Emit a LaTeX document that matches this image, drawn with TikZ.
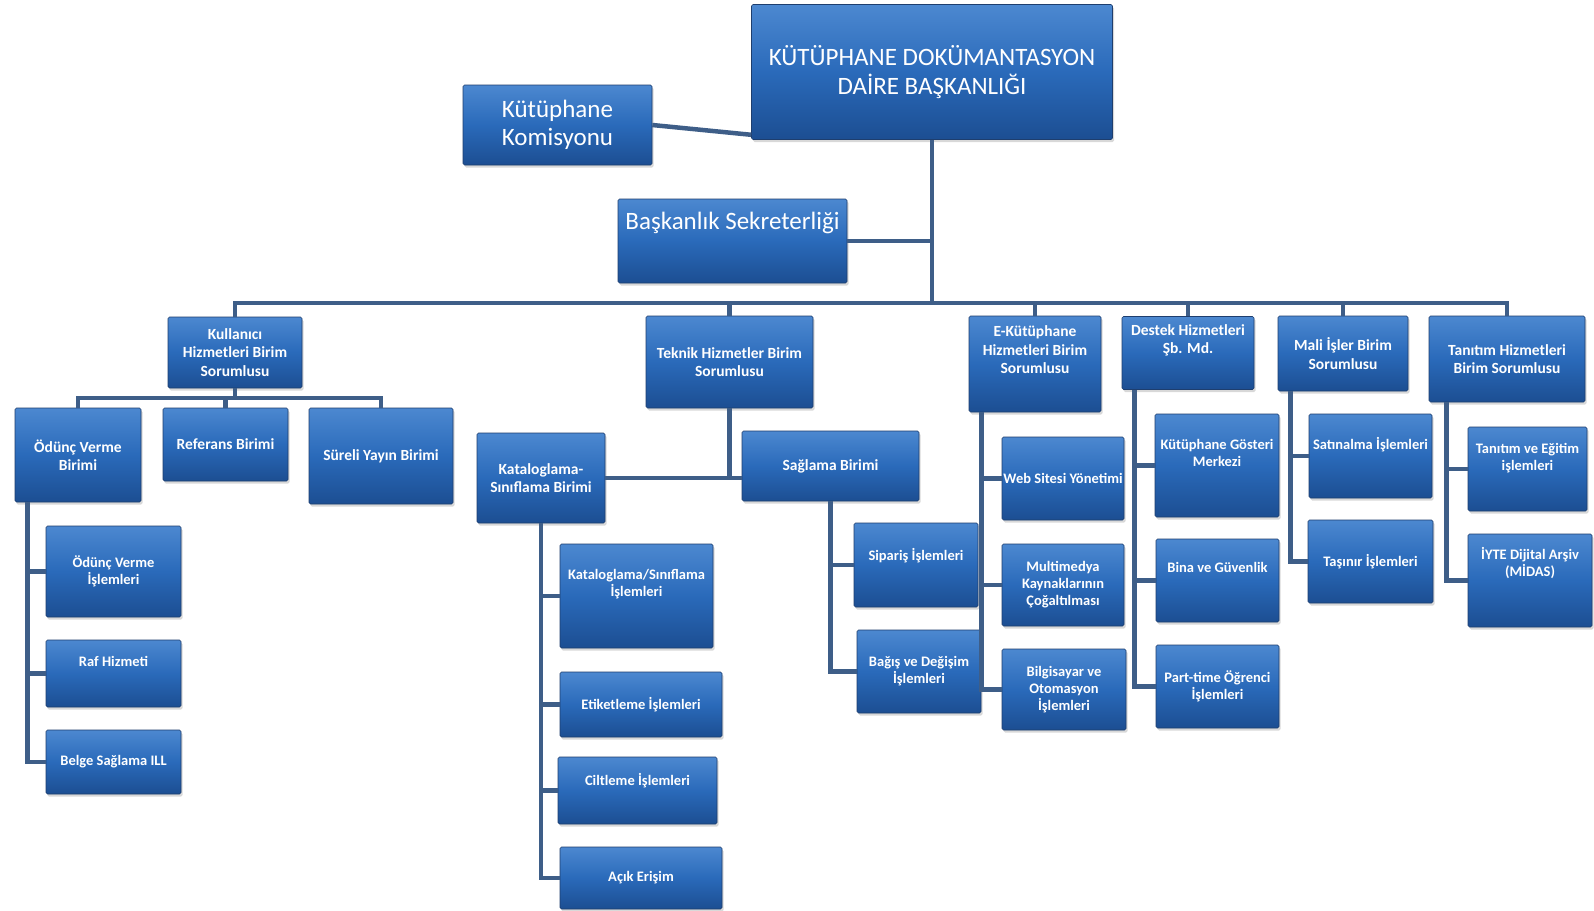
\documentclass[tikz,border=0pt]{standalone}
\usepackage{fontspec}
\setmainfont{Carlito}
\usepackage{tikz}
\usetikzlibrary{shadows}

\definecolor{boxtop}{RGB}{76,136,208}
\definecolor{boxmid}{RGB}{42,106,186}
\definecolor{boxbot}{RGB}{28,78,146}
\definecolor{boxedge}{RGB}{30,62,110}
\definecolor{linkcol}{RGB}{62,94,136}

\begin{document}
\begin{tikzpicture}[x=1pt,y=-1pt,
    orgbox/.style={draw=boxedge,line width=0.6pt,rounded corners=1.5pt,
      top color=boxtop,bottom color=boxbot,middle color=boxmid,
      text=white,align=center,inner sep=0.5pt,
      drop shadow={shadow xshift=1.5pt,shadow yshift=-2.5pt,opacity=0.3}},
    topbox/.style={orgbox,font=\fontsize{25}{28.5}\selectfont},
    headbox/.style={orgbox,font=\fontsize{15.5}{18.5}\selectfont\bfseries},
    leafbox/.style={orgbox,font=\fontsize{14.5}{17}\selectfont\bfseries},
    sz/.style 2 args={minimum width=#1pt,minimum height=#2pt},
    txtup/.style={text depth=#1pt},
    link/.style={draw=linkcol,line width=4.5pt}]
\useasboundingbox[fill=white] (0,0) rectangle (1594,910);

% top
\node[topbox,sz={361}{135}] (dbas) at (932,72) {KÜTÜPHANE DOKÜMANTASYON\\DAİRE BAŞKANLIĞI};
\node[topbox,sz={189}{80}] (komis) at (557.5,125) {Kütüphane\\Komisyonu};
\node[topbox,sz={229}{84},txtup=41] (sekr) at (732.5,241) {Başkanlık Sekreterliği};

% units
\node[headbox,sz={134}{71}] (kul) at (235,352.5) {Kullanıcı\\Hizmetleri Birim\\Sorumlusu};
\node[headbox,sz={167}{92}] (tekn) at (729.5,362) {Teknik Hizmetler Birim\\Sorumlusu};
\node[headbox,sz={132}{96},txtup=28] (ekut) at (1035,364) {E-Kütüphane\\Hizmetleri Birim\\Sorumlusu};
\node[headbox,sz={132}{73},txtup=28] (destek) at (1188,353) {Destek Hizmetleri\\Şb. Md.};
\node[headbox,sz={130}{75}] (mali) at (1343,353.5) {Mali İşler Birim\\Sorumlusu};
\node[headbox,sz={156}{86}] (tanit) at (1507,359) {Tanıtım Hizmetleri\\Birim Sorumlusu};

\node[headbox,sz={126}{94}] (odunc) at (78,455) {Ödünç Verme\\Birimi};
\node[headbox,sz={125}{73}] (refer) at (225.5,444.5) {Referans Birimi};
\node[headbox,sz={144}{96}] (sureli) at (381,456) {Süreli Yayın Birimi};
\node[headbox,sz={128}{90}] (katbir) at (541,478) {Kataloglama-\\Sınıflama Birimi};
\node[headbox,sz={177}{70}] (sagbir) at (830.5,466) {Sağlama Birimi};

% leaves
\node[leafbox,sz={135}{91}] (odisl) at (113.5,571.5) {Ödünç Verme\\İşlemleri};
\node[leafbox,sz={135}{67},txtup=23.5] (raf) at (113.5,673.5) {Raf Hizmeti};
\node[leafbox,sz={135}{64}] (belge) at (113.5,762) {Belge Sağlama ILL};

\node[leafbox,sz={153}{104},txtup=25.5] (katisl) at (636.5,596) {Kataloglama/Sınıflama\\İşlemleri};
\node[leafbox,sz={162}{65}] (etiket) at (641,704.5) {Etiketleme İşlemleri};
\node[leafbox,sz={159}{67},txtup=21.5] (cilt) at (637.5,790.5) {Ciltleme İşlemleri};
\node[leafbox,sz={162}{62}] (acik) at (641,878) {Açık Erişim};

\node[leafbox,sz={124}{84},txtup=21.5] (sipar) at (916,565) {Sipariş İşlemleri};
\node[leafbox,sz={124}{83}] (bagis) at (919,671.5) {Bağış ve Değişim\\İşlemleri};

\node[leafbox,sz={122}{83}] (web) at (1063,478.5) {Web Sitesi Yönetimi};
\node[leafbox,sz={122}{82}] (multi) at (1063,585) {Multimedya\\Kaynaklarının\\Çoğaltılması};
\node[leafbox,sz={124}{81}] (bilgi) at (1064,689.5) {Bilgisayar ve\\Otomasyon\\İşlemleri};

\node[leafbox,sz={124}{103},txtup=25.5] (goster) at (1217,465.5) {Kütüphane Gösteri\\Merkezi};
\node[leafbox,sz={123}{83},txtup=25.5] (bina) at (1217.5,580.5) {Bina ve Güvenlik};
\node[leafbox,sz={123}{83}] (part) at (1217.5,686.5) {Part-time Öğrenci\\İşlemleri};

\node[leafbox,sz={123}{84},txtup=25.5] (satin) at (1370.5,456) {Satınalma İşlemleri};
\node[leafbox,sz={125}{83}] (tasin) at (1370.5,561.5) {Taşınır İşlemleri};

\node[leafbox,sz={119}{84},txtup=23.5] (tanegit) at (1527.5,469) {Tanıtım ve Eğitim\\işlemleri};
\node[leafbox,sz={124}{93},txtup=37.5] (iyte) at (1530,580.5) {İYTE Dijital Arşiv\\(MİDAS)};

% connectors
\draw[link] (komis.east) -- ([yshift=5pt]dbas.south west);
\coordinate (bus) at (932,303);
\draw[link] (dbas.south) -- (bus);
\draw[link] (sekr.east) -- (sekr.east -| bus);
\foreach \nm in {kul,tekn,ekut,destek,mali,tanit}
  \draw[link] (bus) -| (\nm.north);

\coordinate (kbus) at (235,398);
\draw[link] (kul.south) -- (kbus);
\foreach \nm in {odunc,refer,sureli}
  \draw[link] (kbus) -| (\nm.north);
\foreach \nm in {odisl,raf,belge}
  \draw[link] ([xshift=13pt]odunc.south west) |- (\nm.west);

\draw[link] (tekn.south) |- (katbir.east);
\draw[link] (katbir.east) -- (katbir.east -| sagbir.west);
\foreach \nm in {katisl,etiket,cilt,acik}
  \draw[link] (katbir.south) |- (\nm.west);
\foreach \nm in {sipar,bagis}
  \draw[link] (sagbir.south) |- (\nm.west);

\foreach \nm in {web,multi,bilgi}
  \draw[link] ([xshift=13pt]ekut.south west) |- (\nm.west);
\foreach \nm in {goster,bina,part}
  \draw[link] ([xshift=13pt]destek.south west) |- (\nm.west);
\foreach \nm in {satin,tasin}
  \draw[link] ([xshift=13pt]mali.south west) |- (\nm.west);
\foreach \nm in {tanegit,iyte}
  \draw[link] ([xshift=18pt]tanit.south west) |- (\nm.west);
\end{tikzpicture}
\end{document}
